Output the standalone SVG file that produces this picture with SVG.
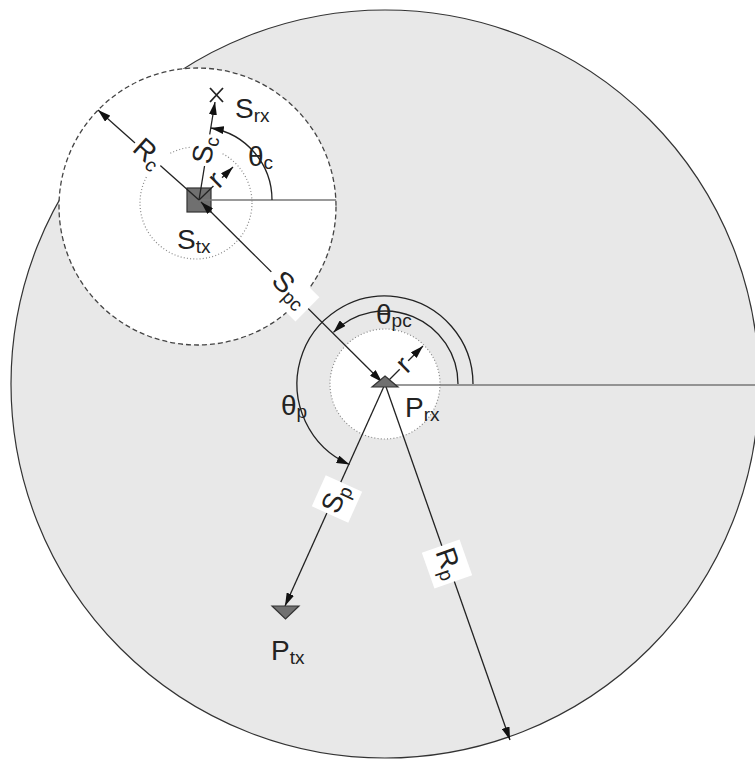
<svg xmlns="http://www.w3.org/2000/svg" width="755" height="762" viewBox="0 0 755 762">
<style>
.ln{stroke:#222;stroke-width:1.3;fill:none}
.hz{stroke:#777;stroke-width:1.6;fill:none}
.dot{stroke:#888;stroke-width:1.2;stroke-dasharray:1 2.2;fill:#fff}
.t{font-family:"Liberation Sans",Arial,sans-serif;font-size:28px;fill:#222}
.s{font-size:19px}
.bx{fill:#fff;stroke:none}
.node{fill:#707070;stroke:#333;stroke-width:1.2}
</style>
<defs>
<marker id="ah" viewBox="0 0 13 8" refX="13" refY="4" markerWidth="13" markerHeight="8" markerUnits="userSpaceOnUse" orient="auto-start-reverse">
<path d="M0,0 L13,4 L0,8 z" fill="#111"/>
</marker>
</defs>
<rect width="755" height="762" fill="#fff"/>
<g id="regions">
<circle id="primary-region" cx="385" cy="384" r="374" fill="#e8e8e8" stroke="#333" stroke-width="1.2"/>
<circle id="secondary-region" cx="197.5" cy="206.5" r="138.5" fill="#fff" stroke="#444" stroke-width="1.3" stroke-dasharray="5 3"/>
<circle class="dot" cx="196" cy="203" r="56"/>
<circle class="dot" cx="385" cy="384" r="55"/>
</g>
<g id="Stx">
<rect class="node" x="187" y="188" width="24" height="24"/>
<text class="t" x="177" y="249">S<tspan class="s" dy="4">tx</tspan></text>
</g>
<g id="connectors">
<line class="hz" x1="199" y1="200" x2="336" y2="200"/>
<line class="hz" x1="385" y1="385" x2="755" y2="385"/>
<path class="ln" d="M272,200 A73,73 0 0 0 210.8,128" marker-end="url(#ah)"/>
<path class="ln" d="M458,384 A73,73 0 0 0 333.4,332.4" marker-end="url(#ah)"/>
<path class="ln" d="M473,384 A88,88 0 1 0 349.5,464.5" marker-end="url(#ah)"/>
<line class="ln" x1="199" y1="200" x2="98" y2="110" marker-end="url(#ah)"/>
<line class="ln" x1="199" y1="200" x2="215" y2="102" marker-end="url(#ah)"/>
<line class="ln" x1="199" y1="200" x2="233" y2="167" marker-end="url(#ah)"/>
<line class="ln" x1="201" y1="202" x2="382" y2="382" marker-start="url(#ah)" marker-end="url(#ah)"/>
<line class="ln" x1="385" y1="384" x2="423" y2="346" marker-end="url(#ah)"/>
<line class="ln" x1="385" y1="384" x2="285" y2="606" marker-end="url(#ah)"/>
<line class="ln" x1="385" y1="384" x2="510" y2="740" marker-end="url(#ah)"/>
</g>
<g id="labels">
<g transform="translate(147,155) rotate(42)"><rect class="bx" x="-17" y="-16" width="34" height="32"/><text class="t" x="0" y="7" text-anchor="middle">R<tspan class="s" dy="4">c</tspan></text></g>
<g transform="translate(206,150) rotate(-80)"><rect class="bx" x="-16" y="-16" width="32" height="32"/><text class="t" x="0" y="7" text-anchor="middle">S<tspan class="s" dy="4">c</tspan></text></g>
<g transform="translate(217,181) rotate(-45)"><rect class="bx" x="-6" y="-10" width="12" height="18"/><text class="t" x="0" y="7" text-anchor="middle">r</text></g>
<g transform="translate(405,366) rotate(-45)"><rect class="bx" x="-6" y="-10" width="12" height="18"/><text class="t" x="0" y="7" text-anchor="middle">r</text></g>
<g transform="translate(289,291) rotate(44.8)"><rect class="bx" x="-26" y="-17" width="52" height="34"/><text class="t" x="0" y="7" text-anchor="middle">S<tspan class="s" dy="4">pc</tspan></text></g>
<g transform="translate(337,499) rotate(-65.8)"><rect class="bx" x="-17" y="-20" width="34" height="40"/><text class="t" x="0" y="7" text-anchor="middle">S<tspan class="s" dy="4">p</tspan></text></g>
<g transform="translate(447,564) rotate(70.6)"><rect class="bx" x="-19" y="-20" width="38" height="40"/><text class="t" x="0" y="7" text-anchor="middle">R<tspan class="s" dy="4">p</tspan></text></g>
<text class="t" x="248" y="166">θ<tspan class="s" dy="3">c</tspan></text>
<text class="t" x="376" y="324">θ<tspan class="s" dy="3">pc</tspan></text>
<text class="t" x="281" y="415">θ<tspan class="s" dy="3">p</tspan></text>
</g>
<g id="Srx">
<path d="M210,88 L223,102 M223,88 L210,102" stroke="#222" stroke-width="1.8"/>
<text class="t" x="235" y="118">S<tspan class="s" dy="4">rx</tspan></text>
</g>
<g id="Prx">
<path class="node" d="M385,376 L398,387 L372,387 z"/>
<text class="t" x="405" y="417">P<tspan class="s" dy="4">rx</tspan></text>
</g>
<g id="Ptx">
<path class="node" d="M272,606 L299,606 L285.5,619 z"/>
<text class="t" x="271" y="660">P<tspan class="s" dy="4">tx</tspan></text>
</g>
</svg>
